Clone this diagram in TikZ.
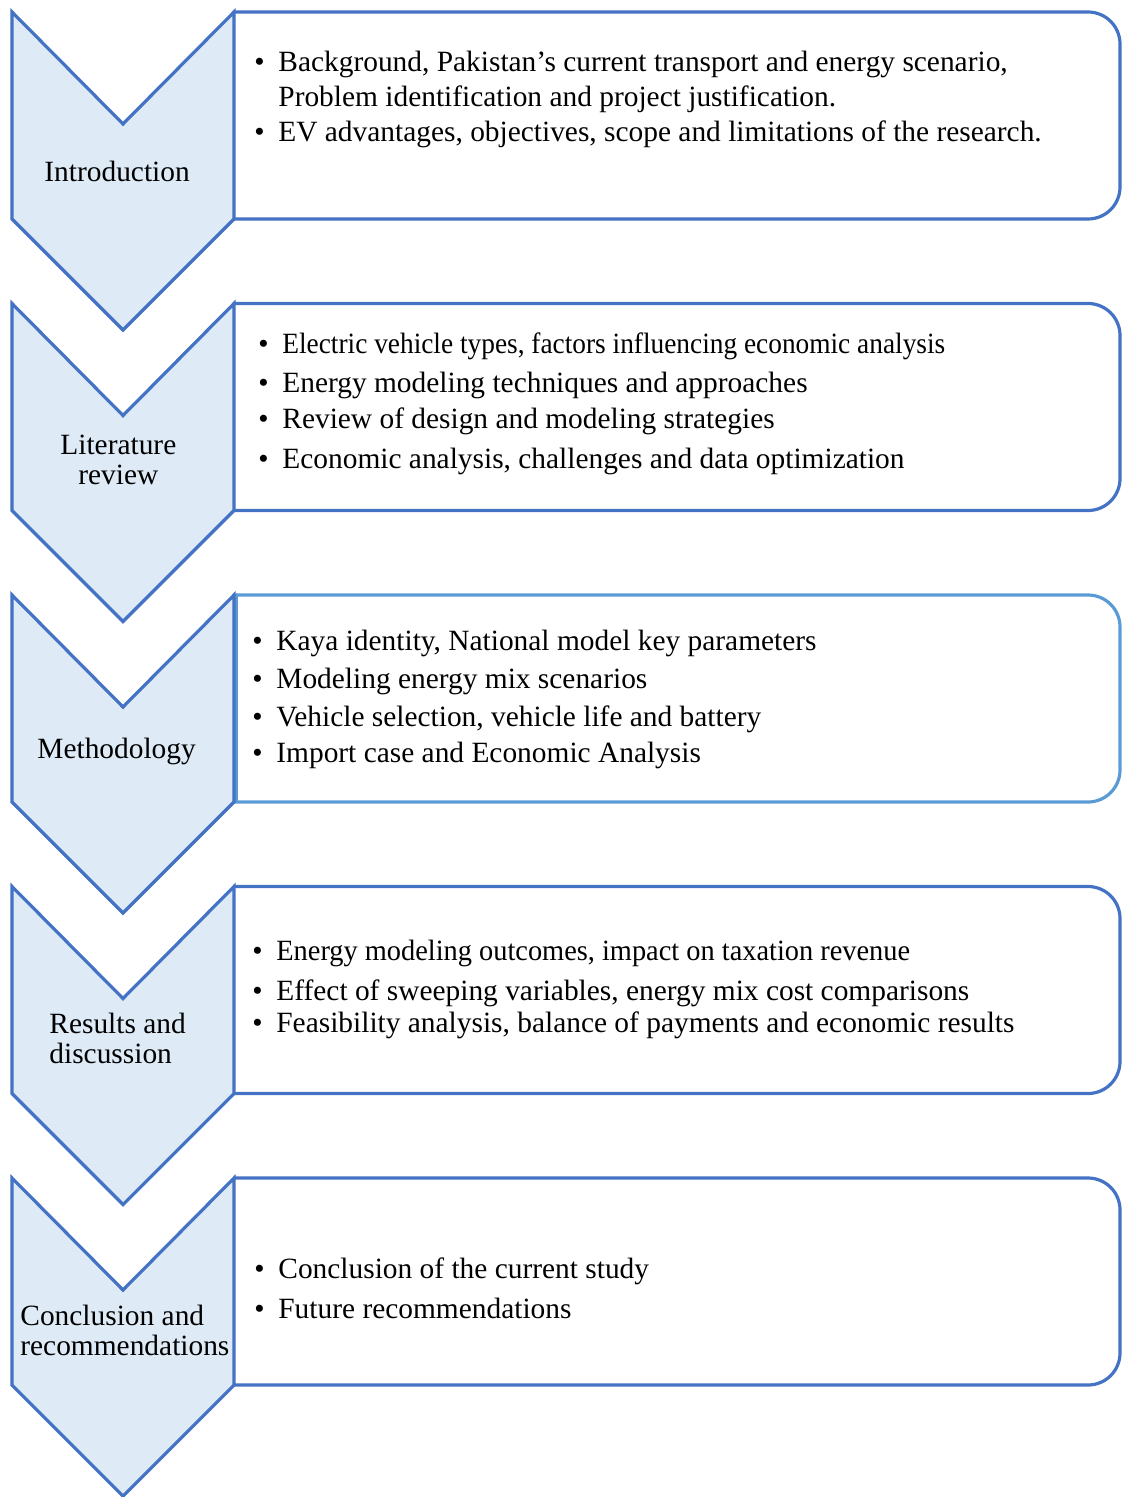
\documentclass[tikz,border=0pt]{standalone}
\usepackage{fontspec}
\setmainfont{Liberation Serif}
\usepackage{graphicx}

\definecolor{stageblue}{HTML}{4472C4}
\definecolor{stagefill}{HTML}{DEEBF7}
\definecolor{panelblue}{HTML}{5B9BD5}

\newcommand{\bul}{\makebox[12pt][l]{\textbullet}}

\tikzset{
  stage/.style={draw=stageblue, fill=stagefill, line width=1.6pt, line join=miter},
  panel/.style={draw=stageblue, line width=1.6pt, rounded corners=16pt},
  label/.style={inner sep=0pt, anchor=base west, font=\fontsize{14.7}{15}\selectfont},
  item/.style={inner sep=0pt, anchor=base west, font=\fontsize{14.7}{17}\selectfont}
}

\begin{document}
\begin{tikzpicture}[x=0.5pt, y=-0.5pt]
  \useasboundingbox (0,0) rectangle (1123,1497);

  % panels
  \draw[panel] (234,12) -- (1120,12) -- (1120,219) -- (234,219);
  \draw[panel] (234,303.5) -- (1120,303.5) -- (1120,510.5) -- (234,510.5);
  \draw[panel, draw=panelblue] (234,595) -- (1120,595) -- (1120,802) -- (234,802);
  \draw[draw=panelblue, line width=1.6pt] (236,595) -- (236,802);
  \draw[panel] (234,886.5) -- (1120,886.5) -- (1120,1093.5) -- (234,1093.5);
  \draw[panel] (234,1178) -- (1120,1178) -- (1120,1385) -- (234,1385);

  % chevrons
  \draw[stage] (12,12) -- (123,124) -- (234,12) -- (234,219) -- (123,330) -- (12,219) -- cycle;
  \draw[stage] (12,303.5) -- (123,415.5) -- (234,303.5) -- (234,510.5) -- (123,621.5) -- (12,510.5) -- cycle;
  \draw[stage] (12,595) -- (123,707) -- (234,595) -- (234,802) -- (123,913) -- (12,802) -- cycle;
  \draw[stage] (12,886.5) -- (123,998.5) -- (234,886.5) -- (234,1093.5) -- (123,1204.5) -- (12,1093.5) -- cycle;
  \draw[stage] (12,1178) -- (123,1290) -- (234,1178) -- (234,1385) -- (123,1496) -- (12,1385) -- cycle;

  % stage labels
  \node[label] (intro) at (44,182) {Introduction};
  \node[label, align=center] (lit) at (60,484) {Literature\\review};
  \node[label] (meth) at (37,758) {Methodology};
  \node[label, align=left] (res) at (49,1063) {Results and\\discussion};
  \node[label, align=left] (concl) at (20,1355) {Conclusion and\\recommendations};

  % introduction
  \node[item] (intro1) at (254,72) {\bul Background, Pakistan’s current transport and energy scenario,};
  \node[item] (intro2) at (278,107) {Problem identification and project justification.};
  \node[item] (intro3) at (254,142) {\bul EV advantages, objectives, scope and limitations of the research.};

  % literature review
  \node[item] (lit1) at (258,354) {\bul\scalebox{0.93}[1]{Electric vehicle types, factors influencing economic analysis}};
  \node[item] (lit2) at (258,393) {\bul Energy modeling techniques and approaches};
  \node[item] (lit3) at (258,429) {\bul Review of design and modeling strategies};
  \node[item] (lit4) at (258,468) {\bul Economic analysis, challenges and data optimization};

  % methodology
  \node[item] (meth1) at (252,650) {\bul Kaya identity, National model key parameters};
  \node[item] (meth2) at (252,688) {\bul Modeling energy mix scenarios};
  \node[item] (meth3) at (252,726) {\bul Vehicle selection, vehicle life and battery};
  \node[item] (meth4) at (252,762) {\bul Import case and Economic Analysis};

  % results and discussion
  \node[item] (res1) at (252,960) {\bul\scalebox{0.965}[1]{Energy modeling outcomes, impact on taxation revenue}};
  \node[item] (res2) at (252,1000) {\bul Effect of sweeping variables, energy mix cost comparisons};
  \node[item] (res3) at (252,1032) {\bul Feasibility analysis, balance of payments and economic results};

  % conclusion
  \node[item] (concl1) at (254,1278) {\bul Conclusion of the current study};
  \node[item] (concl2) at (254,1318) {\bul Future recommendations};
\end{tikzpicture}
\end{document}
